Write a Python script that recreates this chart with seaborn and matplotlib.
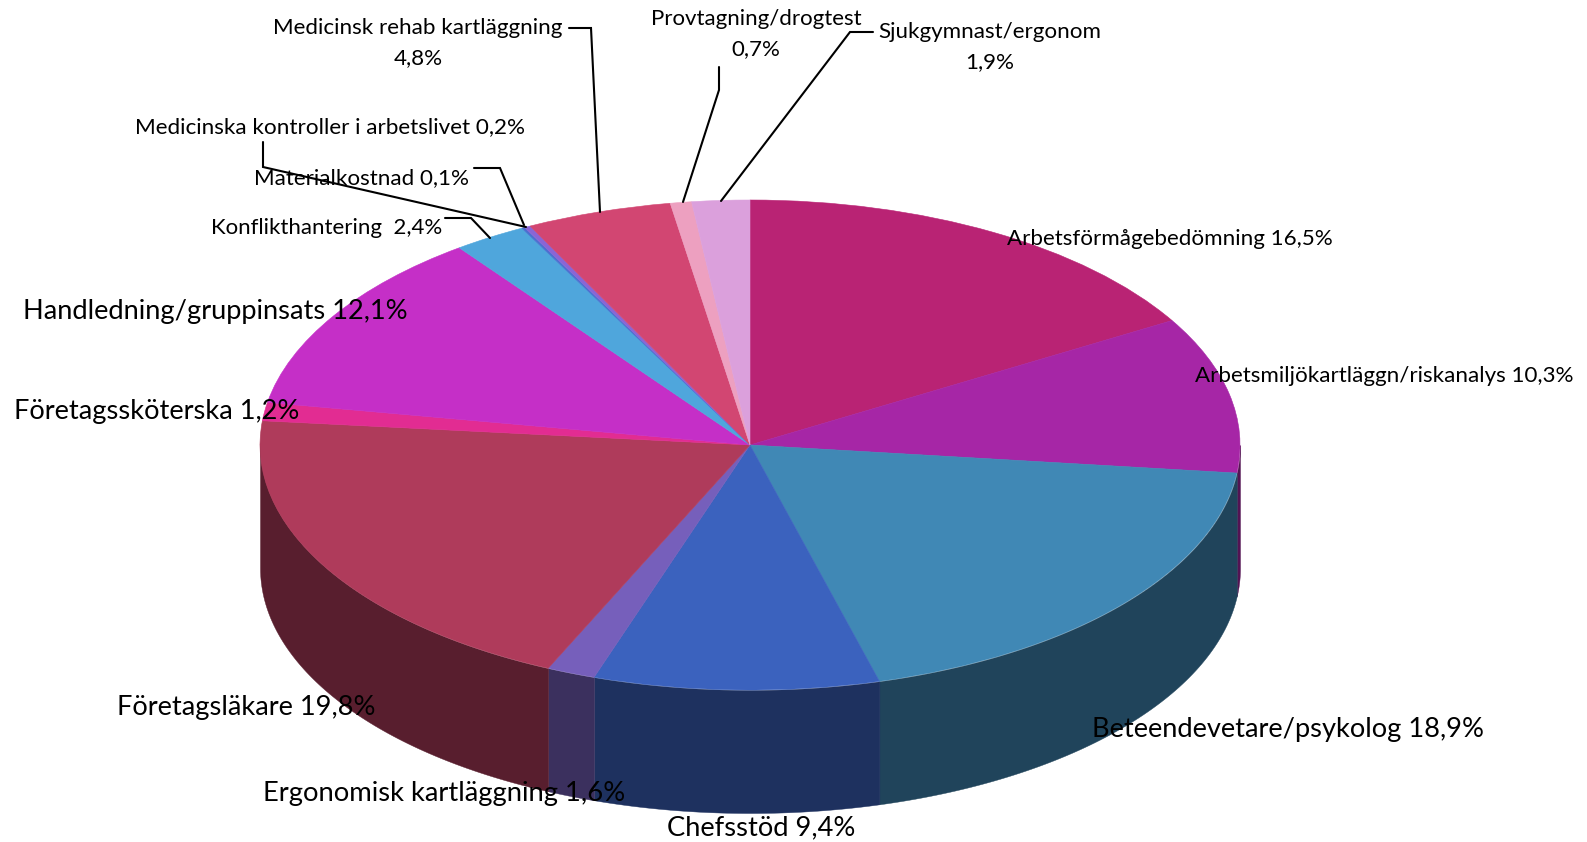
import numpy as np
import matplotlib
matplotlib.use('Agg')
import matplotlib.pyplot as plt
import seaborn as sns

# andelar per tjanst, medurs fran kl 12
names = ['Arbetsförmågebedömning', 'Arbetsmiljökartläggn/riskanalys', 'Beteendevetare/psykolog',
         'Chefsstöd', 'Ergonomisk kartläggning', 'Företagsläkare', 'Företagssköterska',
         'Handledning/gruppinsats', 'Konflikthantering ', 'Materialkostnad',
         'Medicinska kontroller i arbetslivet', 'Medicinsk rehab kartläggning',
         'Provtagning/drogtest', 'Sjukgymnast/ergonom']
values = [16.5, 10.3, 18.9, 9.4, 1.6, 19.8, 1.2, 12.1, 2.4, 0.1, 0.2, 4.8, 0.7, 1.9]
colors = ['#B92374', '#A626A6', '#4088B5', '#3B62BE', '#765FBB', '#AF3B5B', '#E22C92',
          '#C52FC7', '#4FA6DC', '#4B6FD0', '#8A65D5', '#D24672', '#EDA0C0', '#DBA0DC']

# etikettplacering i pixlar
label_x = [1170, 1384, 1288, 761, 444, 246, 157, 215, 327, 361, 330, 418, 756, 990]
label_y = [239, 376, 729, 828, 794, 708, 412, 311, 228, 178, 127, 43, 34, 47]
label_size = [16.1, 16.1, 19.6, 19.6, 19.7, 19.6, 19.6, 19.6, 16, 16.1, 16.2, 16.1, 16, 16.1]
two_lines = [11, 12, 13]

# linjer till etiketter, i pixlar
leader_lines = [
    [(569, 28), (591, 28), (600, 212)],
    [(719, 67), (719, 90), (683, 202)],
    [(873, 32), (850, 32), (721, 201)],
    [(263, 142), (263, 167), (526, 227)],
    [(474, 168), (500, 168), (524, 225)],
    [(445, 218), (471, 218), (490, 238)],
]

W, H = 1587, 842
cx, cy = 750, 445
rx, ry = 490, 245
depth = 123 / ry

sns.set_theme(style='white')
plt.rcParams['font.family'] = ['Lato', 'DejaVu Sans']
palette = sns.color_palette(colors)

fig = plt.figure(figsize=(W / 100, H / 100), dpi=100)
ax = fig.add_axes([0, 0, 1, 1])

# ovansidan
wedges, _ = ax.pie(values, colors=palette, startangle=90, counterclock=False, radius=1,
                   normalize=True)
for w, c in zip(wedges, palette):
    w.set_edgecolor(c)
    w.set_linewidth(0.4)
ax.set_aspect('auto')
ax.set_xlim(-cx / rx, (W - cx) / rx)
ax.set_ylim(-(H - cy) / ry, cy / ry)

# sidovaggen, halva ljusstyrkan
fracs = np.cumsum([0] + values) / sum(values)
for i, c in enumerate(palette):
    start = max(fracs[i], 0.25)
    end = min(fracs[i + 1], 0.75)
    if end <= start:
        continue
    t = np.radians(90 - 360 * np.linspace(start, end, 80))
    side = tuple(v * 0.5 for v in c)
    ax.fill_between(np.cos(t), np.sin(t), np.sin(t) - depth, color=side, linewidth=0.3, zorder=0)

# text och linjer i pixelkoordinater
over = fig.add_axes([0, 0, 1, 1], facecolor='none')
over.set_xlim(0, W)
over.set_ylim(H, 0)
over.axis('off')

for pts in leader_lines:
    over.plot([p[0] for p in pts], [p[1] for p in pts], color='black', lw=1.5, solid_joinstyle='miter')

for i, name in enumerate(names):
    pct = f'{values[i]:.1f}'.replace('.', ',') + '%'
    sep = '\n' if i in two_lines else ' '
    over.text(label_x[i], label_y[i], name + sep + pct, ha='center', va='center',
              fontsize=label_size[i], color='black', linespacing=1.6)

fig.savefig('out.png', dpi=100)
